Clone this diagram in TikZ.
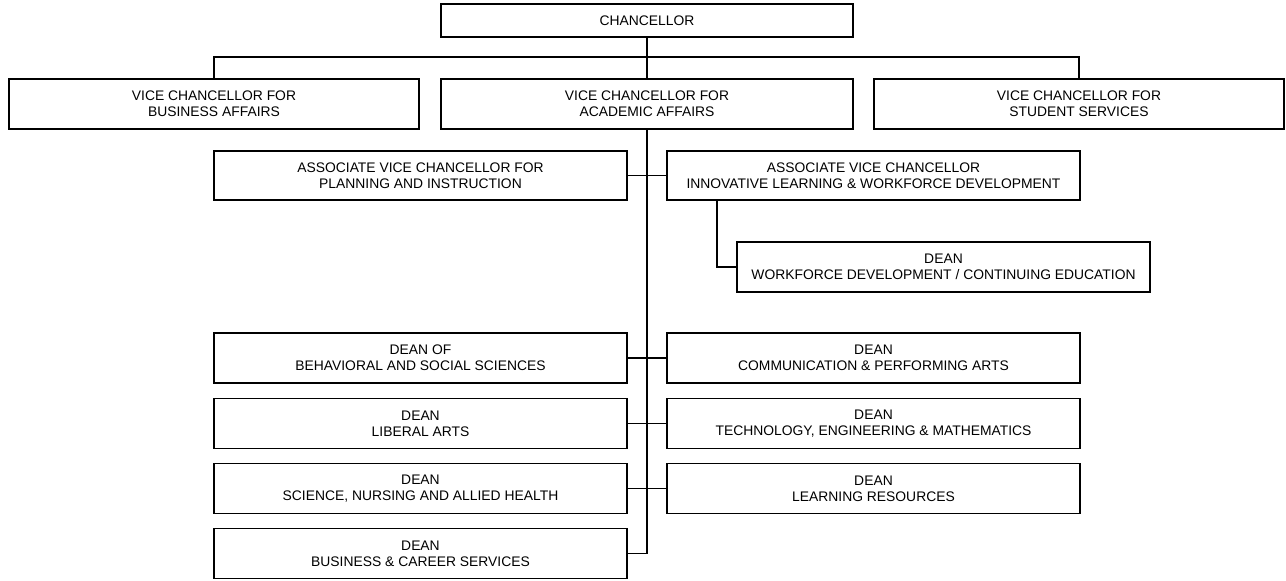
\documentclass[tikz,border=0pt]{standalone}
\usepackage{fontspec}
\setmainfont{Liberation Sans}
\usetikzlibrary{positioning}

\tikzset{
  orgbox/.style={draw, line width=0.9pt, align=center, minimum width=309.75pt,
    minimum height=37.5pt, inner sep=0pt, font=\fontsize{10.4}{12.2}\selectfont},
  link/.style={draw, line width=0.9pt}
}

\begin{document}
\begin{tikzpicture}[x=0.75pt, y=-0.75pt]
  \useasboundingbox (0,0) rectangle (1286,581);
  % top levels
  \node[orgbox, minimum height=24.75pt, minimum width=309pt] (chan) at (647,20.5) {CHANCELLOR};
  \node[orgbox, minimum width=307.5pt] (vcbus) at (214,104) {VICE CHANCELLOR FOR\\BUSINESS AFFAIRS};
  \node[orgbox, minimum width=309pt] (vcacad) at (647,104) {VICE CHANCELLOR FOR\\ACADEMIC AFFAIRS};
  \node[orgbox, minimum width=307.5pt] (vcstud) at (1079,104) {VICE CHANCELLOR FOR\\STUDENT SERVICES};
  % associates
  \node[orgbox, minimum height=36.75pt] (avcplan) at (420.5,175.5) {ASSOCIATE VICE CHANCELLOR FOR\\PLANNING AND INSTRUCTION};
  \node[orgbox, minimum height=36.75pt] (avcinno) at (873.5,175.5) {ASSOCIATE VICE CHANCELLOR\\INNOVATIVE LEARNING \& WORKFORCE DEVELOPMENT};
  \node[orgbox] (deanwf) at (943.5,267) {DEAN\\WORKFORCE DEVELOPMENT / CONTINUING EDUCATION};
  % deans
  \node[orgbox] (deanbeh) at (420.5,358) {DEAN OF\\BEHAVIORAL AND SOCIAL SCIENCES};
  \node[orgbox] (deancomm) at (873.5,358) {DEAN\\COMMUNICATION \& PERFORMING ARTS};
  \node[orgbox] (deanlib) at (420.5,423.5) {DEAN\\LIBERAL ARTS};
  \node[orgbox] (deantech) at (873.5,423.5) {DEAN\\TECHNOLOGY, ENGINEERING \& MATHEMATICS};
  \node[orgbox] (deansci) at (420.5,488.5) {DEAN\\SCIENCE, NURSING AND ALLIED HEALTH};
  \node[orgbox] (deanlrc) at (873.5,488.5) {DEAN\\LEARNING RESOURCES};
  \node[orgbox] (deanbus) at (420.5,553.5) {DEAN\\BUSINESS \& CAREER SERVICES};

  % connectors
  \coordinate (bus) at (647,57);
  \coordinate (wfx) at (717,0);
  \draw[link] (chan.south) -- (vcacad.north);
  \draw[link] (vcbus.north) |- (bus) -| (vcstud.north);
  \draw[link] (vcacad.south) -- (vcacad.south |- deanbus.east) -- (deanbus.east);
  \draw[link] (avcplan.east) -- (avcinno.west);
  \draw[link] (avcinno.south -| wfx) |- (deanwf.west);
  \draw[link] (deanbeh.east) -- (deancomm.west);
  \draw[link] (deanlib.east) -- (deantech.west);
  \draw[link] (deansci.east) -- (deanlrc.west);
\end{tikzpicture}
\end{document}
